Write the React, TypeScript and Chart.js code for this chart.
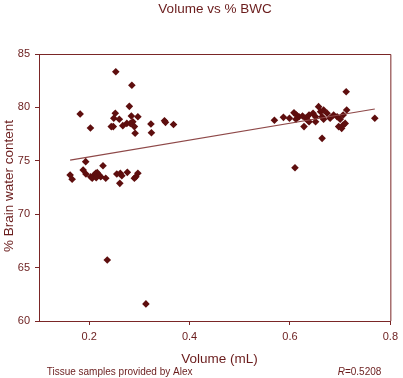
import React, { useEffect, useRef } from "react";
import { Chart, registerables } from "chart.js";

Chart.register(...registerables);

const volumes: number[] = [
  0.253, 0.285, 0.280, 0.182, 0.2025, 0.252, 0.249, 0.260, 0.244, 0.248, 0.267, 0.275, 0.284, 0.287, 0.297, 0.290, 0.2915, 0.282, 0.323, 0.324, 0.350, 0.352, 0.368,
  0.162, 0.166, 0.193, 0.188, 0.1935, 0.203, 0.210, 0.213, 0.216, 0.2196, 0.223, 0.206, 0.214, 0.2275, 0.233, 0.255, 0.262, 0.265, 0.261, 0.276, 0.297, 0.293, 0.290,
  0.236, 0.313,
  0.712, 0.769, 0.610, 0.569, 0.587, 0.703, 0.706, 0.599, 0.608, 0.613, 0.618, 0.625, 0.631, 0.628, 0.635, 0.638, 0.646, 0.651, 0.657, 0.661, 0.664, 0.667, 0.674, 0.680, 0.687, 0.694, 0.700, 0.706, 0.710, 0.697, 0.713, 0.667, 0.612, 0.638, 0.651, 0.664,
];

const bwc: number[] = [
  83.34, 82.07, 80.1, 79.38, 78.07, 79.45, 78.98, 78.89, 78.2, 78.2, 78.29, 78.5, 79.2, 78.66, 79.13, 78.2, 77.58, 78.5, 78.45, 77.63, 78.75, 78.6, 78.4,
  73.67, 73.27, 74.92, 74.14, 73.76, 73.51, 73.67, 73.83, 73.89, 73.67, 73.51, 73.36, 73.42, 74.54, 73.36, 73.76, 73.83, 73.6, 72.89, 73.92, 73.83, 73.51, 73.36,
  65.71, 61.6,
  81.47, 78.98, 74.35, 78.79, 79.07, 78.04, 78.35, 78.98, 79.5, 79.29, 79.13, 79.19, 78.98, 78.2, 78.82, 79.29, 79.45, 79.13, 80.07, 79.6, 79.13, 78.89, 79.45, 78.98, 79.29, 79.13, 78.89, 79.29, 78.5, 78.2, 79.76, 79.76, 78.89, 78.66, 78.66, 77.1,
];

const trendX: number[] = [0.162, 0.769];
const trendY: number[] = [75.07, 79.85];

const xTicks: number[] = [0.2, 0.4, 0.6, 0.8];
const yTicks: number[] = [60, 65, 70, 75, 80, 85];

const titleText = "Volume vs % BWC";
const xTitle = "Volume (mL)";
const yTitle = "% Brain water content";
const footerText = "Tissue samples provided by Alex";
const rLabel = "R";
const rValue = "=0.5208";

const TEXT = "#6a1c1c";
const AXIS = "#7a2626";
const POINT = "#5e0e0e";
const TREND = "#8e4848";
const FONT = "'Liberation Sans', Arial, sans-serif";

export default function App() {
  const ref = useRef<HTMLCanvasElement | null>(null);

  useEffect(() => {
    if (!ref.current) return;
    const points = volumes.map((v, i) => ({ x: v, y: bwc[i] }));
    const trend = trendX.map((v, i) => ({ x: v, y: trendY[i] }));

    const decor = {
      id: "decor",
      afterDraw(chart: any) {
        const ctx = chart.ctx as CanvasRenderingContext2D;
        const a = chart.chartArea;
        ctx.save();
        ctx.strokeStyle = AXIS;
        ctx.lineWidth = 1;
        ctx.beginPath();
        ctx.moveTo(a.left, a.top + 0.5);
        ctx.lineTo(a.right + 0.5, a.top + 0.5);
        ctx.lineTo(a.right + 0.5, a.bottom);
        ctx.stroke();

        ctx.fillStyle = TEXT;
        ctx.textBaseline = "middle";
        ctx.textAlign = "center";
        ctx.font = `13.5px ${FONT}`;
        ctx.fillText(titleText, 215, 9);
        ctx.fillText(xTitle, 219.5, 359);

        ctx.save();
        ctx.translate(9, 186);
        ctx.rotate(-Math.PI / 2);
        ctx.fillText(yTitle, 0, 0);
        ctx.restore();

        ctx.textAlign = "left";
        ctx.font = `10px ${FONT}`;
        ctx.fillText(footerText, 46.7, 372);
        ctx.font = `italic 10px ${FONT}`;
        ctx.fillText(rLabel, 337.7, 372);
        const w = ctx.measureText(rLabel).width;
        ctx.font = `10px ${FONT}`;
        ctx.fillText(rValue, 337.7 + w, 372);
        ctx.restore();
      },
    };

    const chart = new Chart(ref.current, {
      type: "scatter",
      data: {
        datasets: [
          {
            type: "line",
            data: trend,
            borderColor: TREND,
            borderWidth: 1.2,
            pointRadius: 0,
            fill: false,
          } as any,
          {
            data: points,
            pointStyle: "rectRot",
            pointRadius: 3.8,
            backgroundColor: POINT,
            borderColor: POINT,
            borderWidth: 0,
          },
        ],
      },
      options: {
        animation: false,
        responsive: false,
        layout: { padding: { top: 54, right: 7, left: 0, bottom: 0 } },
        plugins: {
          legend: { display: false },
          title: { display: false },
          tooltip: { enabled: false },
        },
        scales: {
          x: {
            type: "linear",
            min: 0.1,
            max: 0.8,
            afterBuildTicks: (s: any) => {
              s.ticks = xTicks.map((v) => ({ value: v }));
            },
            afterFit: (s: any) => {
              s.height = 57;
            },
            ticks: {
              color: TEXT,
              font: { family: FONT, size: 11 },
              padding: 5,
              maxRotation: 0,
              callback: (v: any) => Number(v).toFixed(1),
            },
            grid: { display: true, drawOnChartArea: false, drawTicks: true, tickLength: 4, color: AXIS },
            border: { display: true, color: AXIS, width: 1 },
          },
          y: {
            type: "linear",
            min: 60,
            max: 85,
            afterBuildTicks: (s: any) => {
              s.ticks = yTicks.map((v) => ({ value: v }));
            },
            afterFit: (s: any) => {
              s.width = 39;
            },
            ticks: {
              color: TEXT,
              font: { family: FONT, size: 11 },
              padding: 5,
            },
            grid: { display: true, drawOnChartArea: false, drawTicks: true, tickLength: 4, color: AXIS },
            border: { display: true, color: AXIS, width: 1 },
          },
        },
      },
      plugins: [decor],
    });
    return () => chart.destroy();
  }, []);

  return (
    <div style={{ position: "fixed", left: 0, top: 0, width: 403, height: 378, background: "#fff" }}>
      <canvas ref={ref} width={403} height={378} style={{ width: 403, height: 378 }} />
    </div>
  );
}
